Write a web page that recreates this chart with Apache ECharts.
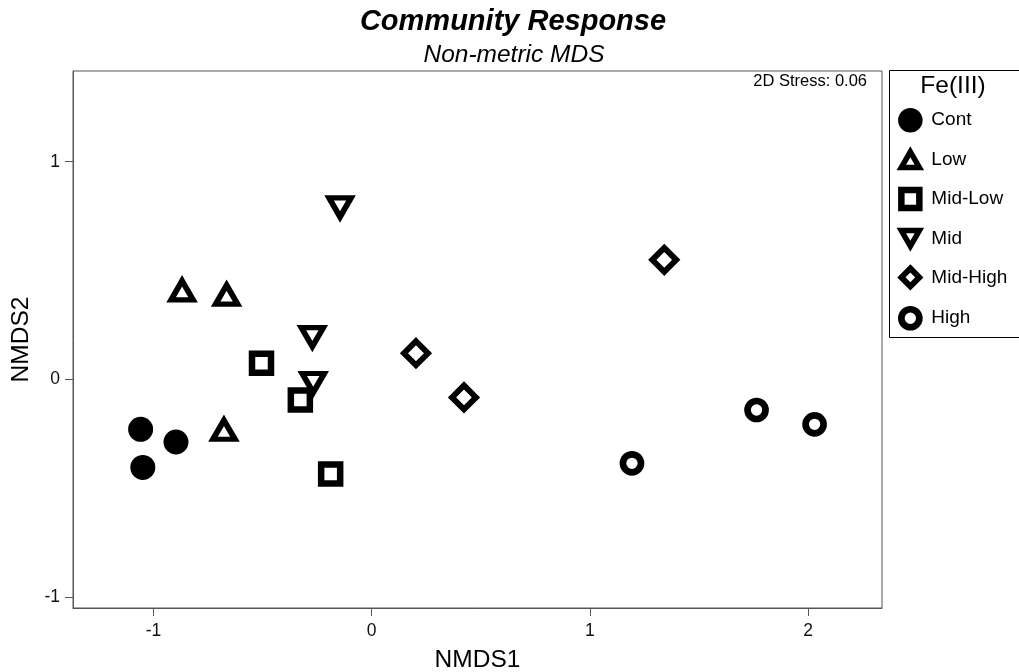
<!DOCTYPE html>
<html>
<head>
<meta charset="utf-8">
<script src="https://cdn.jsdelivr.net/npm/echarts@6/dist/echarts.min.js"></script>
<style>
  html, body { margin: 0; padding: 0; background: #fff; }
  #chart { width: 1019px; height: 672px; }
</style>
</head>
<body>
<div id="chart"></div>
<script>
// Treatment groups (Fe(III) level)
const groups = ['Cont', 'Low', 'Mid-Low', 'Mid', 'Mid-High', 'High'];

// NMDS site scores per group
const contX    = [-1.059, -1.049, -0.897];
const contY    = [-0.230, -0.405, -0.288];
const lowX     = [-0.869, -0.665, -0.677];
const lowY     = [ 0.409,  0.389, -0.232];
const midLowX  = [-0.505, -0.327, -0.188];
const midLowY  = [ 0.074, -0.095, -0.435];
const midX     = [-0.145, -0.272, -0.268];
const midY     = [ 0.790,  0.194, -0.017];
const midHighX = [ 0.203,  0.423,  1.341];
const midHighY = [ 0.120, -0.083,  0.549];
const highX    = [ 1.193,  1.764,  2.030];
const highY    = [-0.386, -0.141, -0.207];

// Axis tick values
const xTicks = [-1, 0, 1, 2];
const yTicks = [-1, 0, 1];

const stressText = '2D Stress: 0.06';

const FONT = "'Liberation Sans', Arial, Helvetica, sans-serif";
const AXIS_GRAY = '#555';

// Open triangles, pointing up and down
const TRI_UP = 'path://M11,0L22,19L0,19Z';
const TRI_DOWN = 'path://M0,0L22,0L11,19Z';

function pairs(xs, ys) {
  return xs.map((x, i) => [x, ys[i]]);
}

const seriesData = [
  { name: 'Cont',     xs: contX,    ys: contY,    symbol: 'circle',  size: 18.5,     lw: 6.5, fill: '#000' },
  { name: 'Low',      xs: lowX,     ys: lowY,     symbol: TRI_UP,    size: [22, 19], lw: 5.5, fill: '#fff' },
  { name: 'Mid-Low',  xs: midLowX,  ys: midLowY,  symbol: 'rect',    size: 19,       lw: 6.5, fill: '#fff' },
  { name: 'Mid',      xs: midX,     ys: midY,     symbol: TRI_DOWN,  size: [22, 19], lw: 5.5, fill: '#fff' },
  { name: 'Mid-High', xs: midHighX, ys: midHighY, symbol: 'diamond', size: 24,       lw: 5.8, fill: '#fff' },
  { name: 'High',     xs: highX,    ys: highY,    symbol: 'circle',  size: 18,       lw: 6.7, fill: '#fff' }
];

const chart = echarts.init(document.getElementById('chart'), null, { renderer: 'canvas' });

const option = {
  backgroundColor: '#fff',
  animation: false,
  grid: {
    left: 73, right: 137, top: 71, bottom: 64,
    outerBoundsMode: 'none',
    containLabel: false,
    show: true, borderColor: AXIS_GRAY, borderWidth: 1, backgroundColor: 'transparent'
  },
  xAxis: {
    type: 'value',
    min: -1.369, max: 2.339,
    name: 'NMDS1', nameLocation: 'middle', nameGap: 40,
    nameTextStyle: { fontFamily: FONT, fontSize: 24.5, color: '#000' },
    axisLine: { show: true, onZero: false, lineStyle: { color: AXIS_GRAY, width: 1 } },
    axisTick: { show: true, inside: false, length: 8, lineStyle: { color: AXIS_GRAY }, customValues: xTicks },
    axisLabel: { show: true, margin: 14, fontFamily: FONT, fontSize: 17.5, color: '#111', customValues: xTicks },
    splitLine: { show: false }
  },
  yAxis: {
    type: 'value',
    min: -1.051, max: 1.417,
    name: 'NMDS2', nameLocation: 'middle', nameGap: 34, nameRotate: 90,
    nameTextStyle: { fontFamily: FONT, fontSize: 24.5, color: '#000' },
    axisLine: { show: true, onZero: false, lineStyle: { color: AXIS_GRAY, width: 1 } },
    axisTick: { show: true, inside: false, length: 8, lineStyle: { color: AXIS_GRAY }, customValues: yTicks },
    axisLabel: { show: true, margin: 13, fontFamily: FONT, fontSize: 17.5, color: '#111', customValues: yTicks },
    splitLine: { show: false }
  },
  legend: {
    orient: 'vertical',
    left: 898, top: 108,
    padding: 0,
    itemWidth: 18, itemHeight: 18, itemGap: 16.6,
    selectedMode: false,
    symbolKeepAspect: true,
    data: groups,
    itemStyle: { borderWidth: 'inherit', borderColor: '#000' },
    textStyle: { fontFamily: FONT, fontSize: 19, color: '#000', padding: [0, 0, 0, 7] }
  },
  graphic: [
    {
      type: 'text', x: 513, y: 22, silent: true,
      style: { text: 'Community Response', fontFamily: FONT, fontSize: 29, fontWeight: 'bold', fontStyle: 'italic',
               fill: '#000', align: 'center', verticalAlign: 'middle' }
    },
    {
      type: 'text', x: 514, y: 55, silent: true,
      style: { text: 'Non-metric MDS', fontFamily: FONT, fontSize: 24.5, fontStyle: 'italic',
               fill: '#000', align: 'center', verticalAlign: 'middle' }
    },
    {
      type: 'text', x: 867, y: 81, silent: true,
      style: { text: stressText, fontFamily: FONT, fontSize: 16.5, fill: '#000', align: 'right', verticalAlign: 'middle' }
    },
    {
      type: 'rect', silent: true,
      shape: { x: 889.5, y: 70.5, width: 200, height: 267 },
      style: { fill: 'transparent', stroke: '#000', lineWidth: 1 }
    },
    {
      type: 'text', x: 953, y: 86, silent: true,
      style: { text: 'Fe(III)', fontFamily: FONT, fontSize: 24.5, fill: '#000', align: 'center', verticalAlign: 'middle' }
    }
  ],
  series: seriesData.map(s => ({
    name: s.name,
    type: 'scatter',
    data: pairs(s.xs, s.ys),
    symbol: s.symbol,
    symbolSize: s.size,
    itemStyle: { color: s.fill, borderColor: '#000', borderWidth: s.lw, opacity: 1 },
    emphasis: { disabled: true }
  }))
};

chart.setOption(option);
</script>
</body>
</html>
